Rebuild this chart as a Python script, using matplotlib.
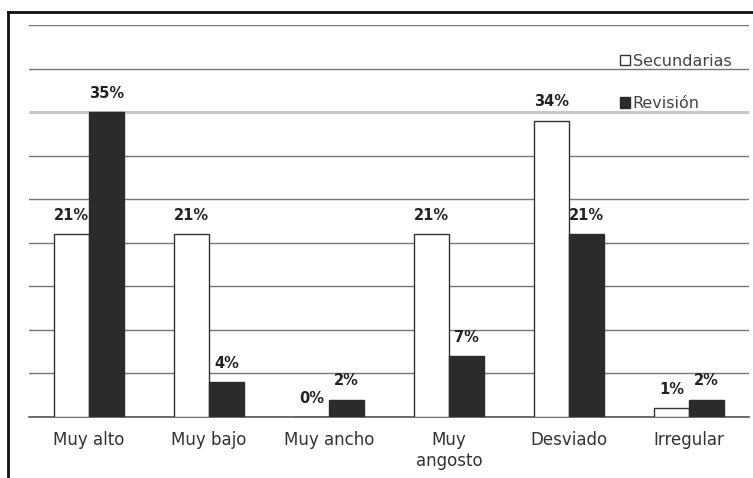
import numpy as np
import matplotlib.pyplot as plt
from matplotlib.lines import Line2D

# ---------------- Data ----------------
categories = ["Muy alto", "Muy bajo", "Muy ancho", "Muy\nangosto", "Desviado", "Irregular"]
secundarias = [21, 21, 0, 21, 34, 1]
revision = [35, 4, 2, 7, 21, 2]
series_names = ["Secundarias", "Revisión"]

plt.rcParams['font.family'] = ['DejaVu Sans']

# ---------------- Plot ----------------
fig = plt.figure(figsize=(7.53, 4.78), dpi=100)
ax = fig.add_axes([29 / 753, 1 - 417 / 478, 720 / 753, 392 / 478])

x = np.arange(len(categories))
w = 0.29
b1 = ax.bar(x - w / 2, secundarias, w, color="white", edgecolor="#333333",
            linewidth=1.0, label=series_names[0], zorder=3)
b2 = ax.bar(x + w / 2, revision, w, color="#2b2b2b", edgecolor="#2b2b2b",
            linewidth=1.0, label=series_names[1], zorder=3)

for bars, vals in ((b1, secundarias), (b2, revision)):
    for rect, v in zip(bars, vals):
        ax.text(rect.get_x() + rect.get_width() / 2, v + 1.3, f"{v}%",
                ha="center", va="bottom", fontsize=10.5, fontweight="bold",
                color="#222222", zorder=4)

ax.set_xlim(-0.5, len(categories) - 0.5)
ax.set_ylim(0, 45)
ax.set_yticks(np.arange(0, 46, 5))
ax.yaxis.grid(True, color="#777777", linewidth=1.0, zorder=0)
for tick, line in zip(ax.get_yticks(), ax.get_ygridlines()):
    if tick == 35:
        line.set_color("#c8c8c8")
        line.set_linewidth(2.2)
ax.tick_params(axis="y", left=False, labelleft=False)
ax.tick_params(axis="x", length=0, pad=10, labelsize=12, labelcolor="#333333")
ax.set_xticks(x)
ax.set_xticklabels(categories, linespacing=1.25)
for side in ("top", "right", "left"):
    ax.spines[side].set_visible(False)
ax.spines["bottom"].set_color("#555555")
ax.spines["bottom"].set_linewidth(1.2)

leg = ax.legend(loc="upper left", bbox_to_anchor=(620 / 753, 1 - 54 / 478),
                bbox_transform=fig.transFigure, frameon=False, fontsize=11.5,
                handlelength=0.6, handleheight=0.6, handletextpad=0.2,
                labelspacing=1.7, borderpad=0, borderaxespad=0)
for t in leg.get_texts():
    t.set_color("#444444")

# outer frame (cropped on right and bottom)
top = 1 - 12 / 478
left = 8 / 753
fig.add_artist(Line2D([left, 1.1], [top, top], transform=fig.transFigure,
                      color="#111111", linewidth=2.0))
fig.add_artist(Line2D([left, left], [-0.1, top], transform=fig.transFigure,
                      color="#111111", linewidth=2.0))

fig.savefig("out.png", dpi=100)
